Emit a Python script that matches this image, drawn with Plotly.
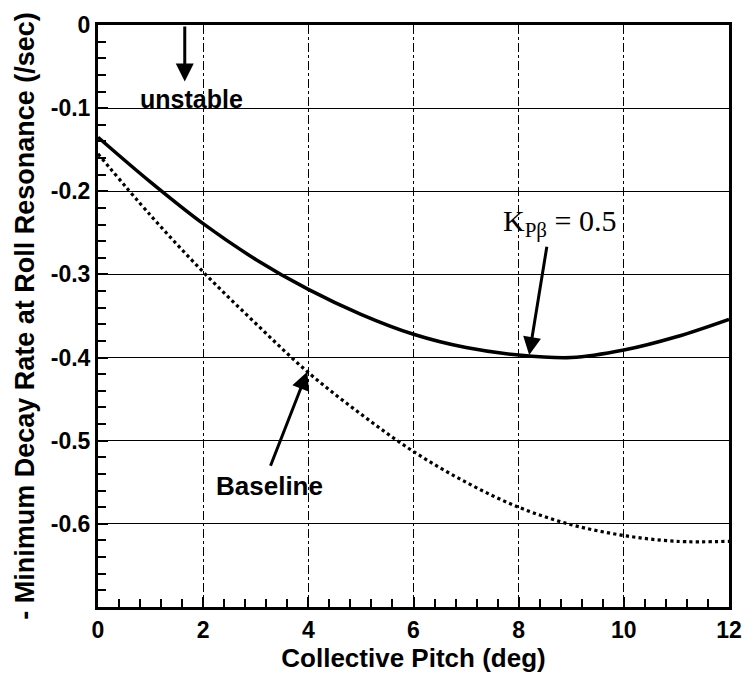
import plotly.graph_objects as go

# Collective pitch (deg)
pitch = [0, 1, 2, 3, 4, 5, 6, 7, 8, 9, 10, 11, 12]
# K_Pbeta = 0.5 (solid)
k05 = [-0.135, -0.189, -0.239, -0.282, -0.318, -0.348, -0.372, -0.388, -0.397, -0.400, -0.391, -0.375, -0.354]
# Baseline (dotted)
baseline = [-0.155, -0.229, -0.297, -0.359, -0.418, -0.468, -0.513, -0.550, -0.580, -0.601, -0.614, -0.621, -0.621]

y_ticks = [0, -0.1, -0.2, -0.3, -0.4, -0.5, -0.6]
y_labels = ["0", "-0.1", "-0.2", "-0.3", "-0.4", "-0.5", "-0.6"]
x_ticks = [0, 2, 4, 6, 8, 10, 12]

FONT = "Liberation Sans"

fig = go.Figure()
fig.add_trace(go.Scatter(x=pitch, y=k05, mode="lines",
                         line=dict(color="black", width=3.5, shape="spline", smoothing=1.0),
                         showlegend=False))
fig.add_trace(go.Scatter(x=pitch, y=baseline, mode="lines",
                         line=dict(color="black", width=3.2, dash="dot", shape="spline", smoothing=1.0),
                         showlegend=False))

fig.update_layout(
    width=754, height=681,
    margin=dict(l=98, r=17, t=17, b=74),
    paper_bgcolor="white", plot_bgcolor="white",
    font=dict(family=FONT, color="black"),
    showlegend=False,
)

fig.update_xaxes(
    range=[0, 12], tickvals=x_ticks, ticktext=["<b>%d</b>" % v for v in x_ticks],
    ticks="inside", ticklen=10, tickwidth=2, tickcolor="black",
    minor=dict(dtick=0.4, tick0=0, ticks="inside", ticklen=8, tickwidth=1.5, tickcolor="black", showgrid=False),
    showgrid=True, gridcolor="black", gridwidth=1, griddash="dashdot",
    showline=True, linewidth=3, linecolor="black", mirror=True,
    zeroline=False,
    tickfont=dict(family=FONT, size=23, color="black", weight="bold"),
    title=dict(text="<b>Collective Pitch (deg)</b>", font=dict(family=FONT, size=26, color="black"), standoff=4),
)
fig.update_yaxes(
    range=[-0.7, 0], tickvals=y_ticks, ticktext=["<b>%s</b>" % s for s in y_labels],
    ticks="inside", ticklen=10, tickwidth=2, tickcolor="black",
    minor=dict(dtick=0.02, tick0=0, ticks="inside", ticklen=8, tickwidth=1.5, tickcolor="black", showgrid=False),
    showgrid=True, gridcolor="black", gridwidth=1.3,
    showline=True, linewidth=3, linecolor="black", mirror=True,
    zeroline=False,
    tickfont=dict(family=FONT, size=23, color="black", weight="bold"),
    title=dict(text="<b>- Minimum Decay Rate at Roll Resonance (/sec)</b>", font=dict(family=FONT, size=27, color="black"), standoff=9),
)

# "unstable" annotation with downward arrow
fig.add_annotation(x=1.78, y=-0.089, text="<b>unstable</b>", showarrow=False,
                   font=dict(family=FONT, size=25, color="black"))
fig.add_annotation(x=1.65, y=-0.068, ax=1.65, ay=0.0, axref="x", ayref="y",
                   text="", showarrow=True, arrowhead=2, arrowsize=1.2, arrowwidth=3, arrowcolor="black")

# K_Pbeta label and arrow
fig.add_annotation(x=8.77, y=-0.238, text="K<sub>Pβ</sub> = 0.5", showarrow=False,
                   font=dict(family="Liberation Serif", size=30, color="black"))
fig.add_annotation(x=8.2, y=-0.397, ax=8.54, ay=-0.265, axref="x", ayref="y",
                   text="", showarrow=True, arrowhead=2, arrowsize=1.2, arrowwidth=3, arrowcolor="black")

# Baseline label and arrow
fig.add_annotation(x=3.27, y=-0.555, text="<b>Baseline</b>", showarrow=False,
                   font=dict(family=FONT, size=26, color="black"))
fig.add_annotation(x=3.98, y=-0.417, ax=3.27, ay=-0.532, axref="x", ayref="y",
                   text="", showarrow=True, arrowhead=2, arrowsize=1.2, arrowwidth=3, arrowcolor="black")

fig.write_html("out.html")
